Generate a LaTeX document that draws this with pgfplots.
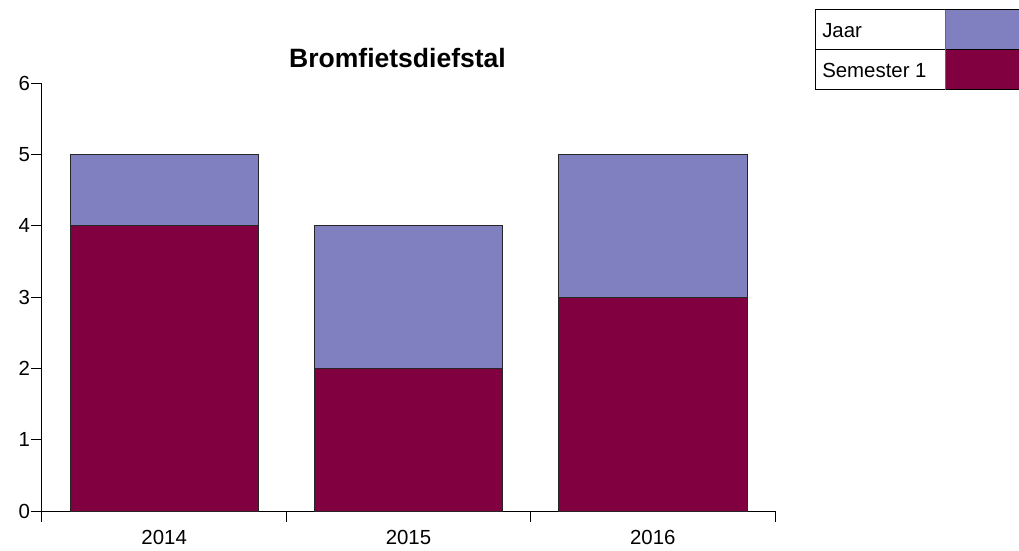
\documentclass[border=0pt]{standalone}
\usepackage{pgfplots}
\pgfplotsset{compat=1.18}
\usepackage{fontspec}
\setmainfont{Liberation Sans}

\definecolor{jaar}{RGB}{128,128,192}
\definecolor{sem}{RGB}{128,0,64}

\begin{document}
\begin{tikzpicture}
\begin{axis}[
    scale only axis,
    width=549.75pt, height=321pt,
    xmin=-0.5, xmax=2.5,
    ymin=0, ymax=6,
    ytick={0,1,2,3,4,5,6},
    xtick={-0.5,0.5,1.5,2.5},
    xticklabels={},
    extra x ticks={0,1,2},
    extra x tick labels={2014,2015,2016},
    extra x tick style={tick style={draw=none},
                        tick label style={yshift=-3pt}},
    axis lines*=left,
    axis line style={line width=0.75pt},
    tick align=outside,
    major tick length=8pt,
    tick style={line width=0.75pt, black},
    tick label style={font=\fontsize{15.3}{18}\selectfont},
    yticklabel style={inner sep=0.8pt},
    /pgf/number format/assume math mode=true,
    ybar, bar width=0.77, bar shift=0pt,
    title={\bfseries Bromfietsdiefstal},
    title style={font=\fontsize{19.9}{23}\selectfont,
                 at={(axis description cs:0.485,1.018)}, anchor=base},
]
\addplot[fill=jaar, draw=black!85, line width=0.6pt] coordinates {
  (0,5) (1,4) (2,5)
};
\addplot[fill=sem, draw=black!85, line width=0.6pt] coordinates {
  (0,4) (1,2) (2,3)
};
\end{axis}

% legend as a small table, top right
\fill[jaar] (677.25pt,345.75pt) rectangle (740pt,375.75pt);
\fill[sem] (677.25pt,315.75pt) rectangle (740pt,345.75pt);
\draw[line width=0.75pt] (740pt,375.75pt) -- (579.75pt,375.75pt)
  -- (579.75pt,315.75pt) -- (740pt,315.75pt);
\draw[line width=0.75pt] (579.75pt,345.75pt) -- (740pt,345.75pt);
\draw[line width=0.75pt, black!60] (677.25pt,375.75pt) -- (677.25pt,315.75pt);
\node[font=\fontsize{15.3}{18}\selectfont, anchor=west, inner sep=0pt]
  at (585pt,360pt) {Jaar};
\node[font=\fontsize{15.3}{18}\selectfont, anchor=west, inner sep=0pt]
  at (585pt,330.75pt) {Semester 1};

\pgfresetboundingbox
\path[use as bounding box] (-31.5pt,-29.25pt) rectangle (732.75pt,383.25pt);
\end{tikzpicture}
\end{document}
